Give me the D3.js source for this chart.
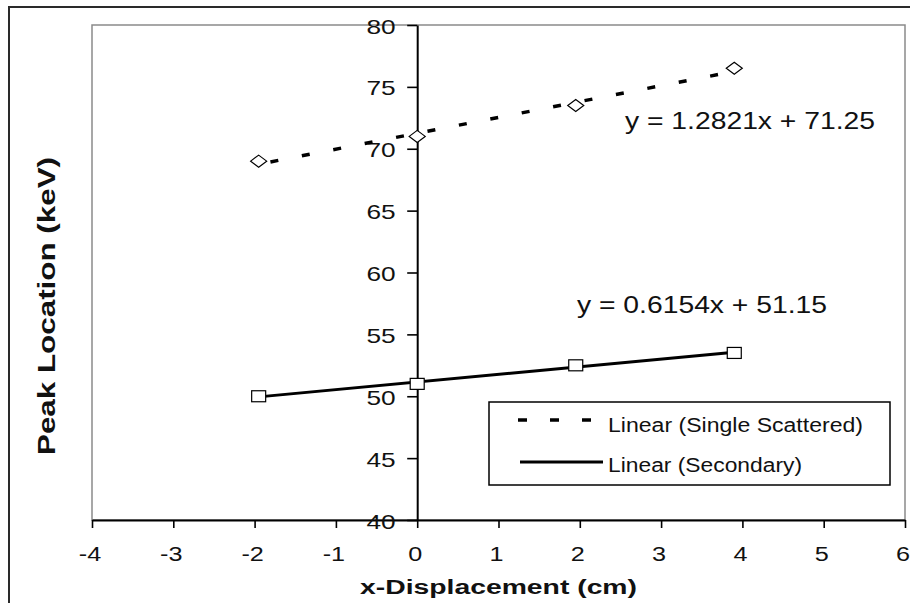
<!DOCTYPE html>
<html>
<head>
<meta charset="utf-8">
<script src="https://cdn.jsdelivr.net/npm/d3@7"></script>
<style>
  html, body { margin: 0; padding: 0; background: #fff; }
  svg { display: block; }
  text { font-family: "Liberation Sans", Arial, sans-serif; fill: #111; }
</style>
</head>
<body>
<svg id="chart" width="910" height="603"></svg>
<script>
// ---- data ----
const xDisplacement = [-1.95, 0, 1.95, 3.9];
const singleScattered = [69, 71, 73.5, 76.5];
const secondary = [50, 51, 52.5, 53.5];
const singleFit = [1.2821, 71.25];   // slope, intercept
const secondaryFit = [0.6154, 51.15];
const xTicks = [-4, -3, -2, -1, 0, 1, 2, 3, 4, 5, 6];
const yTicks = [40, 45, 50, 55, 60, 65, 70, 75, 80];
const singleEquation = "y = 1.2821x + 71.25";
const secondaryEquation = "y = 0.6154x + 51.15";
const legendLabels = ["Linear (Single Scattered)", "Linear (Secondary)"];
const xTitle = "x-Displacement (cm)";
const yTitle = "Peak Location (keV)";

// ---- layout ----
const svg = d3.select("#chart");
const plot = { left: 92, right: 905, top: 25, bottom: 520 };
const x = d3.scaleLinear().domain([-4, 6]).range([plot.left, plot.right]);
const y = d3.scaleLinear().domain([40, 80]).range([plot.bottom, plot.top]);

svg.append("rect").attr("width", 910).attr("height", 603).attr("fill", "#fff");

// outer chart frame
svg.append("rect")
  .attr("x", 9).attr("y", 7).attr("width", 1000).attr("height", 1000)
  .attr("fill", "none").attr("stroke", "#2a2a2a").attr("stroke-width", 2);

// plot area border
svg.append("rect")
  .attr("x", plot.left).attr("y", plot.top)
  .attr("width", plot.right - plot.left).attr("height", plot.bottom - plot.top)
  .attr("fill", "none").attr("stroke", "#8a8a8a").attr("stroke-width", 1.5);

// x axis (at y = 40)
const xAxisG = svg.append("g")
  .attr("transform", `translate(0,${y(40)})`)
  .call(d3.axisBottom(x).tickValues(xTicks).tickSize(8).tickSizeOuter(0).tickFormat(d3.format("d")));
xAxisG.select(".domain").attr("stroke", "#000").attr("stroke-width", 2);
xAxisG.selectAll(".tick line").attr("stroke", "#000").attr("stroke-width", 1.6);
xAxisG.selectAll(".tick text")
  .attr("x", 0).attr("y", 0).attr("dy", 0)
  .attr("transform", "translate(-2.5,41) scale(1.2,1)")
  .attr("text-anchor", "middle")
  .style("font-size", "21px").style("font-family", "Liberation Sans, Arial, sans-serif")
  .attr("fill", "#111")
  .text(d => d < 0 ? "-" + Math.abs(d) : d);

// y axis (at x = 0)
const yAxisG = svg.append("g")
  .attr("transform", `translate(${x(0)},0)`)
  .call(d3.axisLeft(y).tickValues(yTicks).tickSize(10).tickSizeOuter(0).tickFormat(d3.format("d")));
yAxisG.select(".domain").attr("stroke", "#000").attr("stroke-width", 2);
yAxisG.selectAll(".tick line").attr("stroke", "#000").attr("stroke-width", 1.6);
yAxisG.selectAll(".tick text")
  .attr("x", 0).attr("y", 0).attr("dy", 0)
  .attr("transform", "translate(-21.5,8) scale(1.25,1)")
  .attr("text-anchor", "end")
  .style("font-size", "21px").style("font-family", "Liberation Sans, Arial, sans-serif")
  .attr("fill", "#111");

// trendlines
const xr = d3.extent(xDisplacement);
const line = d3.line().x(d => x(d[0])).y(d => y(d[1]));
svg.append("path")
  .datum(xr.map(v => [v, singleFit[0] * v + singleFit[1]]))
  .attr("d", line)
  .attr("fill", "none").attr("stroke", "#000").attr("stroke-width", 3.5)
  .attr("stroke-dasharray", "8,24").attr("stroke-dashoffset", 20);
svg.append("path")
  .datum(xr.map(v => [v, secondaryFit[0] * v + secondaryFit[1]]))
  .attr("d", line)
  .attr("fill", "none").attr("stroke", "#000").attr("stroke-width", 3);

// diamond markers (single scattered)
svg.append("g").selectAll("path")
  .data(xDisplacement.map((v, i) => [v, singleScattered[i]]))
  .join("path")
  .attr("transform", d => `translate(${x(d[0])},${y(d[1])})`)
  .attr("d", "M-8,0L0,-6L8,0L0,6Z")
  .attr("fill", "#fff").attr("stroke", "#000").attr("stroke-width", 1.2);

// square markers (secondary)
svg.append("g").selectAll("rect")
  .data(xDisplacement.map((v, i) => [v, secondary[i]]))
  .join("rect")
  .attr("x", d => x(d[0]) - 7).attr("y", d => y(d[1]) - 5.5)
  .attr("width", 14).attr("height", 11)
  .attr("fill", "#fff").attr("stroke", "#000").attr("stroke-width", 1.2);

// equations
svg.append("text")
  .attr("x", 625).attr("y", 129)
  .attr("textLength", 250).attr("lengthAdjust", "spacingAndGlyphs")
  .style("font-size", "24px")
  .text(singleEquation);
svg.append("text")
  .attr("x", 577).attr("y", 313)
  .attr("textLength", 250).attr("lengthAdjust", "spacingAndGlyphs")
  .style("font-size", "24px")
  .text(secondaryEquation);

// legend
const lg = svg.append("g");
lg.append("rect")
  .attr("x", 489).attr("y", 402).attr("width", 401).attr("height", 83)
  .attr("fill", "#fff").attr("stroke", "#000").attr("stroke-width", 1.5);
lg.append("line")
  .attr("x1", 518).attr("x2", 597).attr("y1", 420).attr("y2", 420)
  .attr("stroke", "#000").attr("stroke-width", 3.5).attr("stroke-dasharray", "9,23");
lg.append("line")
  .attr("x1", 520).attr("x2", 603).attr("y1", 462).attr("y2", 462)
  .attr("stroke", "#000").attr("stroke-width", 3);
const legendWidths = [255, 194];
const legendBaselines = [432, 472];
legendLabels.forEach((t, i) => {
  lg.append("text")
    .attr("x", 608).attr("y", legendBaselines[i])
    .attr("textLength", legendWidths[i]).attr("lengthAdjust", "spacingAndGlyphs")
    .style("font-size", "20px")
    .text(t);
});

// axis titles
svg.append("text")
  .attr("x", (plot.left + plot.right) / 2).attr("y", 594)
  .attr("text-anchor", "middle")
  .attr("textLength", 277).attr("lengthAdjust", "spacingAndGlyphs")
  .style("font-size", "20px").style("font-weight", "bold")
  .text(xTitle);
svg.append("text")
  .attr("transform", "translate(55,306) rotate(-90)")
  .attr("text-anchor", "middle")
  .attr("textLength", 298).attr("lengthAdjust", "spacingAndGlyphs")
  .style("font-size", "23px").style("font-weight", "bold")
  .text(yTitle);
</script>
</body>
</html>
